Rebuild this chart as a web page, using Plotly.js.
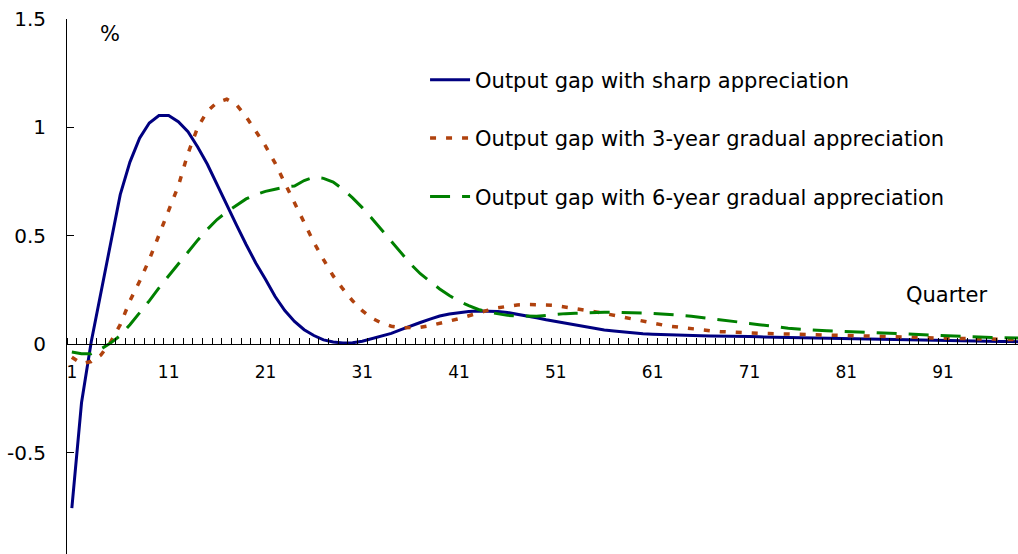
<!DOCTYPE html>
<html>
<head>
<meta charset="utf-8">
<script src="https://cdn.plot.ly/plotly-3.0.1.min.js"></script>
<style>
html,body{margin:0;padding:0;overflow:hidden;background:#fff;}
#chart{width:1018px;height:572px;}
</style>
</head>
<body>
<div id="chart"></div>
<script>
// Quarters 1..100
var quarters = [];
for (var i = 1; i <= 100; i++) quarters.push(i);

var seriesNames = [
  "Output gap with sharp appreciation",
  "Output gap with 3-year gradual appreciation",
  "Output gap with 6-year gradual appreciation"
];

var sharp = [
  -0.756,-0.27,0.01,0.24,0.47,0.69,0.84,0.95,1.02,1.055,
  1.055,1.026,0.98,0.91,0.83,0.735,0.64,0.55,0.46,0.375,
  0.30,0.22,0.155,0.105,0.067,0.04,0.02,0.01,0.006,0.007,
  0.014,0.025,0.036,0.05,0.067,0.085,0.10,0.116,0.13,0.139,
  0.146,0.151,0.153,0.153,0.151,0.146,0.139,0.131,0.122,0.113,
  0.105,0.095,0.087,0.079,0.072,0.066,0.061,0.056,0.052,0.048,
  0.046,0.044,0.042,0.041,0.040,0.039,0.038,0.038,0.037,0.036,
  0.035,0.034,0.033,0.032,0.031,0.030,0.029,0.028,0.027,0.026,
  0.025,0.024,0.023,0.022,0.021,0.020,0.019,0.018,0.018,0.017,
  0.016,0.015,0.015,0.014,0.013,0.013,0.012,0.012,0.011,0.011
];

var gradual3 = [
  -0.06,-0.09,-0.08,-0.05,0.01,0.09,0.2,0.29,0.39,0.5,
  0.62,0.73,0.88,1.0,1.075,1.115,1.13,1.105,1.05,0.98,
  0.915,0.835,0.745,0.65,0.556,0.47,0.39,0.315,0.255,0.20,
  0.155,0.12,0.097,0.083,0.076,0.075,0.078,0.086,0.095,0.107,
  0.118,0.132,0.145,0.157,0.168,0.176,0.181,0.183,0.183,0.181,
  0.178,0.172,0.165,0.157,0.15,0.142,0.133,0.123,0.113,0.104,
  0.096,0.089,0.082,0.076,0.071,0.066,0.062,0.058,0.055,0.053,
  0.051,0.05,0.049,0.048,0.047,0.046,0.045,0.044,0.044,0.043,
  0.042,0.04,0.039,0.038,0.036,0.035,0.033,0.032,0.031,0.029,
  0.028,0.027,0.026,0.025,0.024,0.023,0.022,0.021,0.02,0.02
];

var gradual6 = [
  -0.036,-0.044,-0.044,-0.022,0.005,0.04,0.09,0.144,0.20,0.26,
  0.315,0.375,0.43,0.48,0.53,0.575,0.61,0.64,0.67,0.69,
  0.705,0.715,0.725,0.73,0.755,0.77,0.765,0.748,0.715,0.675,
  0.63,0.58,0.527,0.475,0.423,0.37,0.325,0.288,0.255,0.225,
  0.198,0.178,0.16,0.148,0.14,0.133,0.13,0.128,0.129,0.133,
  0.138,0.141,0.143,0.145,0.146,0.147,0.147,0.147,0.146,0.144,
  0.142,0.14,0.137,0.133,0.129,0.124,0.118,0.111,0.106,0.101,
  0.096,0.09,0.084,0.079,0.074,0.07,0.066,0.064,0.062,0.06,
  0.058,0.056,0.055,0.053,0.051,0.049,0.047,0.045,0.043,0.042,
  0.039,0.037,0.035,0.033,0.032,0.031,0.03,0.029,0.028,0.027
];

var xTickVals = [1,11,21,31,41,51,61,71,81,91];
var xTickText = ["1","11","21","31","41","51","61","71","81","91"];
var yTickVals = [-1,-0.5,0,0.5,1,1.5];
var yTickText = ["-1","-0.5","0","0.5","1","1.5"];

var FONT = "DejaVu Sans, Liberation Sans, Arial, sans-serif";

var traces = [
  {x: quarters, y: sharp, name: seriesNames[0], legendgroup: "a", type: "scatter", mode: "lines",
   line: {color: "#000080", width: 3}},
  {x: quarters, y: gradual3, name: seriesNames[1], legendgroup: "b", type: "scatter", mode: "lines",
   line: {color: "#B0420E", width: 3.5, dash: "6px,10px"}},
  {x: quarters, y: gradual6, name: seriesNames[2], legendgroup: "c", type: "scatter", mode: "lines",
   line: {color: "#008000", width: 3, dash: "20px,12px"}}
];

var layout = {
  width: 1018, height: 572,
  margin: {l: 67, r: 0, t: 19, b: 11},
  paper_bgcolor: "#fff", plot_bgcolor: "#fff",
  font: {family: FONT, color: "#000", size: 20},
  showlegend: true,
  legend: {
    x: 0.3765, y: 0.925, xanchor: "left", yanchor: "top",
    font: {family: FONT, size: 21, color: "#000"},
    bgcolor: "rgba(0,0,0,0)", borderwidth: 0,
    tracegroupgap: 28, itemwidth: 40
  },
  xaxis: {
    range: [0.5, 98.74],
    anchor: "free", position: 0.4,
    showgrid: false, zeroline: false,
    showline: true, linecolor: "#000", linewidth: 1,
    tickmode: "array", tickvals: xTickVals, ticktext: xTickText,
    ticks: "", ticklabelstandoff: 12,
    tickfont: {family: FONT, size: 17, color: "#000"},
    minor: {tickmode: "linear", tick0: 0.5, dtick: 1, ticks: "inside", ticklen: 6, tickwidth: 1, tickcolor: "#000", showgrid: false}
  },
  yaxis: {
    range: [-1, 1.5],
    showgrid: false, zeroline: false,
    showline: true, linecolor: "#000", linewidth: 1,
    tickmode: "array", tickvals: yTickVals, ticktext: yTickText,
    ticks: "inside", ticklen: 7, tickwidth: 1, tickcolor: "#000",
    ticklabelstandoff: 16,
    tickfont: {family: FONT, size: 20, color: "#000"}
  },
  annotations: [
    {text: "%", xref: "paper", yref: "paper", x: 0.0452, y: 0.972, xanchor: "center", yanchor: "middle",
     showarrow: false, font: {family: FONT, size: 21, color: "#000"}},
    {text: "Quarter", xref: "paper", yref: "paper", x: 0.925, y: 0.491, xanchor: "center", yanchor: "middle",
     showarrow: false, font: {family: FONT, size: 21, color: "#000"}}
  ]
};

Plotly.newPlot("chart", traces, layout, {displayModeBar: false, staticPlot: true});
</script>
</body>
</html>
